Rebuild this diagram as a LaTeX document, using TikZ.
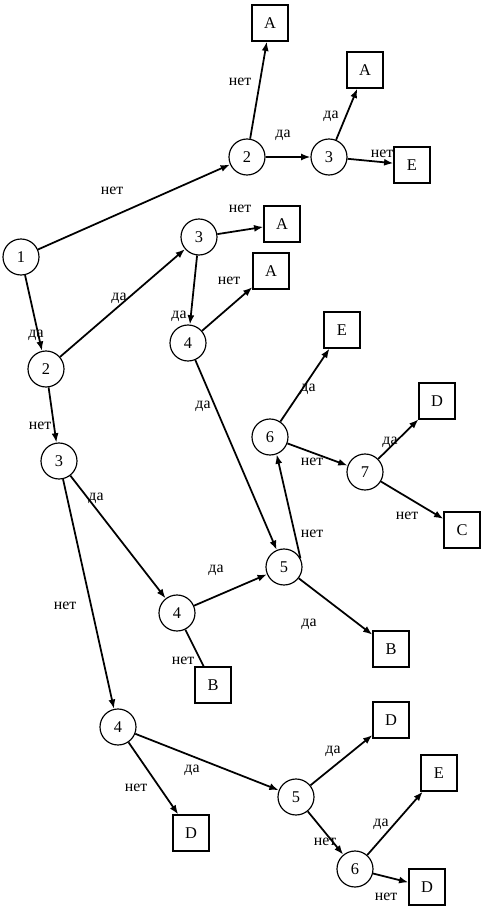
\documentclass[tikz,border=0pt]{standalone}
\usepackage{fontspec}
\setmainfont{Liberation Serif}
\usetikzlibrary{arrows.meta}

\tikzset{
  st/.style={circle,draw,line width=1pt,minimum size=1.08cm,inner sep=0pt,font=\fontsize{14}{16}\selectfont},
  res/.style={rectangle,draw,line width=1pt,minimum size=1.08cm,inner sep=0pt,font=\fontsize{14}{16}\selectfont},
  go/.style={-{Latex[length=8pt,width=6pt]},line width=1.5pt},
  lbl/.style={font=\fontsize{13.5}{15}\selectfont,inner sep=0pt}
}

\begin{document}
\begin{tikzpicture}[x=0.03cm,y=-0.03cm]
\useasboundingbox (0,0) rectangle (486,909);

% states
\node[st] (q1) at (21,257) {1};
\node[st] (q2u) at (247,157) {2};
\node[st] (q3u) at (329,157) {3};
\node[st] (q3r) at (199,237) {3};
\node[st] (q4r) at (188,343) {4};
\node[st] (q2) at (46,369) {2};
\node[st] (q6) at (270,437) {6};
\node[st] (q7) at (365,472) {7};
\node[st] (q3) at (59,461) {3};
\node[st] (q5) at (284,567) {5};
\node[st] (q4) at (177,613) {4};
\node[st] (q4d) at (118,727) {4};
\node[st] (q5d) at (296,797) {5};
\node[st] (q6d) at (355,869) {6};

% results
\node[res] (bA1) at (270,23) {A};
\node[res] (bA2) at (365,70) {A};
\node[res] (bE1) at (412,165) {E};
\node[res] (bA3) at (282,224) {A};
\node[res] (bA4) at (271,271) {A};
\node[res] (bE2) at (342,330) {E};
\node[res] (bD1) at (437,401) {D};
\node[res] (bC) at (462,530) {C};
\node[res] (bB1) at (391,649) {B};
\node[res] (bB2) at (213,685) {B};
\node[res] (bD3) at (391,720) {D};
\node[res] (bE3) at (439,773) {E};
\node[res] (bD2) at (191,833) {D};
\node[res] (bD4) at (427,887) {D};

% branches
\draw[go] (q1) -- (q2u);
\draw[go] (q2u) -- (bA1);
\draw[go] (q2u) -- (q3u);
\draw[go] (q3u) -- (bA2);
\draw[go] (q3u) -- (bE1);
\draw[go] (q1) -- (q2);
\draw[go] (q2) -- (q3r);
\draw[go] (q3r) -- (bA3);
\draw[go] (q3r) -- (q4r);
\draw[go] (q4r) -- (bA4);
\draw[go] (q4r) -- (q5);
\draw[go] (q5.28) -- (q6.-69);
\draw[go] (q6) -- (bE2);
\draw[go] (q6) -- (q7);
\draw[go] (q7) -- (bD1);
\draw[go] (q7) -- (bC);
\draw[go] (q2) -- (q3);
\draw[go] (q3) -- (q4);
\draw[go] (q4) -- (q5);
\draw[line width=1.5pt] (q4) -- (bB2);
\draw[go] (q5) -- (bB1);
\draw[go] (q3) -- (q4d);
\draw[go] (q4d) -- (bD2);
\draw[go] (q4d) -- (q5d);
\draw[go] (q5d) -- (bD3);
\draw[go] (q5d) -- (q6d);
\draw[go] (q6d) -- (bE3);
\draw[go] (q6d) -- (bD4);

% labels
\node[lbl] (l1) at (112,191) {нет};
\node[lbl] (l2) at (240,82) {нет};
\node[lbl] (l3) at (283,135) {да};
\node[lbl] (l4) at (331,116) {да};
\node[lbl] (l5) at (382,154) {нет};
\node[lbl] (l6) at (240,209) {нет};
\node[lbl] (l7) at (119,298) {да};
\node[lbl] (l8) at (36,335) {да};
\node[lbl] (l9) at (179,316) {да};
\node[lbl] (l10) at (229,281) {нет};
\node[lbl] (l11) at (308,389) {да};
\node[lbl] (l12) at (203,406) {да};
\node[lbl] (l13) at (40,426) {нет};
\node[lbl] (l14) at (390,442) {да};
\node[lbl] (l15) at (312,462) {нет};
\node[lbl] (l16) at (407,516) {нет};
\node[lbl] (l17) at (96,498) {да};
\node[lbl] (l18) at (312,534) {нет};
\node[lbl] (l19) at (216,570) {да};
\node[lbl] (l20) at (309,624) {да};
\node[lbl] (l21) at (65,606) {нет};
\node[lbl] (l22) at (183,661) {нет};
\node[lbl] (l23) at (192,770) {да};
\node[lbl] (l24) at (136,788) {нет};
\node[lbl] (l25) at (333,751) {да};
\node[lbl] (l26) at (381,824) {да};
\node[lbl] (l27) at (325,842) {нет};
\node[lbl] (l28) at (386,897) {нет};
\end{tikzpicture}
\end{document}
